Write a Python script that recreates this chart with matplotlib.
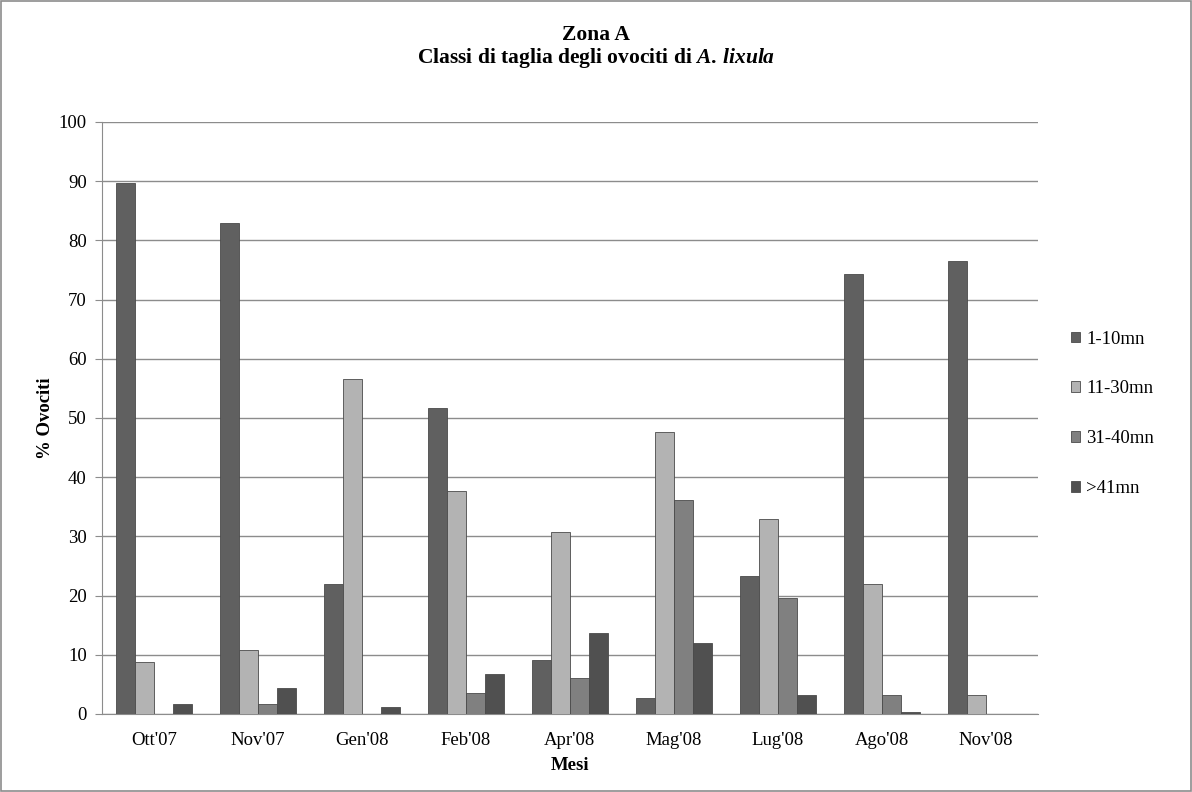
import numpy as np
import matplotlib.pyplot as plt
from matplotlib.patches import Rectangle

plt.rcParams['font.family'] = ['Liberation Serif', 'DejaVu Serif']
plt.rcParams['mathtext.fontset'] = 'custom'
plt.rcParams['mathtext.rm'] = 'Liberation Serif:bold'
plt.rcParams['mathtext.it'] = 'Liberation Serif:italic:bold'

mesi = ["Ott'07", "Nov'07", "Gen'08", "Feb'08", "Apr'08", "Mag'08", "Lug'08", "Ago'08", "Nov'08"]
classi = ["1-10mn", "11-30mn", "31-40mn", ">41mn"]

c_1_10 = [89.7, 82.9, 22.0, 51.7, 9.2, 2.7, 23.3, 74.4, 76.6]
c_11_30 = [8.8, 10.8, 56.5, 37.6, 30.8, 47.6, 32.9, 22.0, 3.2]
c_31_40 = [0.0, 1.7, 0.0, 3.6, 6.1, 36.1, 19.6, 3.2, 0.0]
c_41 = [1.7, 4.4, 1.2, 6.8, 13.7, 12.0, 3.2, 0.4, 0.0]

colori = ['#606060', '#b3b3b3', '#808080', '#505050']

fig = plt.figure(figsize=(11.92, 7.92), dpi=100)
ax = fig.add_axes([0.0856, 0.0985, 0.785, 0.7475])

x = np.arange(len(mesi))
w = 0.183
serie = [c_1_10, c_11_30, c_31_40, c_41]
for k, (vals, col, lab) in enumerate(zip(serie, colori, classi)):
    ax.bar(x + (k - 1.5) * w, vals, width=w, color=col, edgecolor='#4a4a4a',
           linewidth=0.6, label=lab, zorder=3)

ax.set_xlim(-0.5, len(mesi) - 0.5)
ax.set_ylim(0, 100)
ax.set_yticks(np.arange(0, 101, 10))
ax.set_xticks(x)
ax.set_xticklabels(mesi)
ax.yaxis.grid(True, color='#8c8c8c', linewidth=1.0, zorder=0)
ax.tick_params(axis='y', length=5, color='#8c8c8c', labelsize=13.5, pad=6)
ax.tick_params(axis='x', length=0, labelsize=13.5, pad=13)

for s in ['top', 'right']:
    ax.spines[s].set_visible(False)
ax.spines['left'].set_color('#8c8c8c')
ax.spines['bottom'].set_color('#8c8c8c')

ax.set_ylabel('% Ovociti', fontsize=13.5, fontweight='bold', labelpad=3)
ax.set_xlabel('Mesi', fontsize=13.5, fontweight='bold', labelpad=6)

# titolo su due righe, nome della specie in corsivo
fig.text(0.5, 0.940, "Zona A\nClassi di taglia degli ovociti di $\\mathit{A.\\,lixula}$",
         ha='center', va='center', fontsize=15.5, fontweight='bold', linespacing=1.05)

ax.legend(loc='center left', bbox_to_anchor=(1.017, 0.507), frameon=False,
          fontsize=13.5, handlelength=0.5, handleheight=0.5, handletextpad=0.35,
          labelspacing=1.75)

fig.patches.append(Rectangle((0.001, 0.001), 0.998, 0.998, transform=fig.transFigure,
                             fill=False, edgecolor='#8c8c8c', linewidth=1.2))

fig.savefig('out.png', dpi=100)
